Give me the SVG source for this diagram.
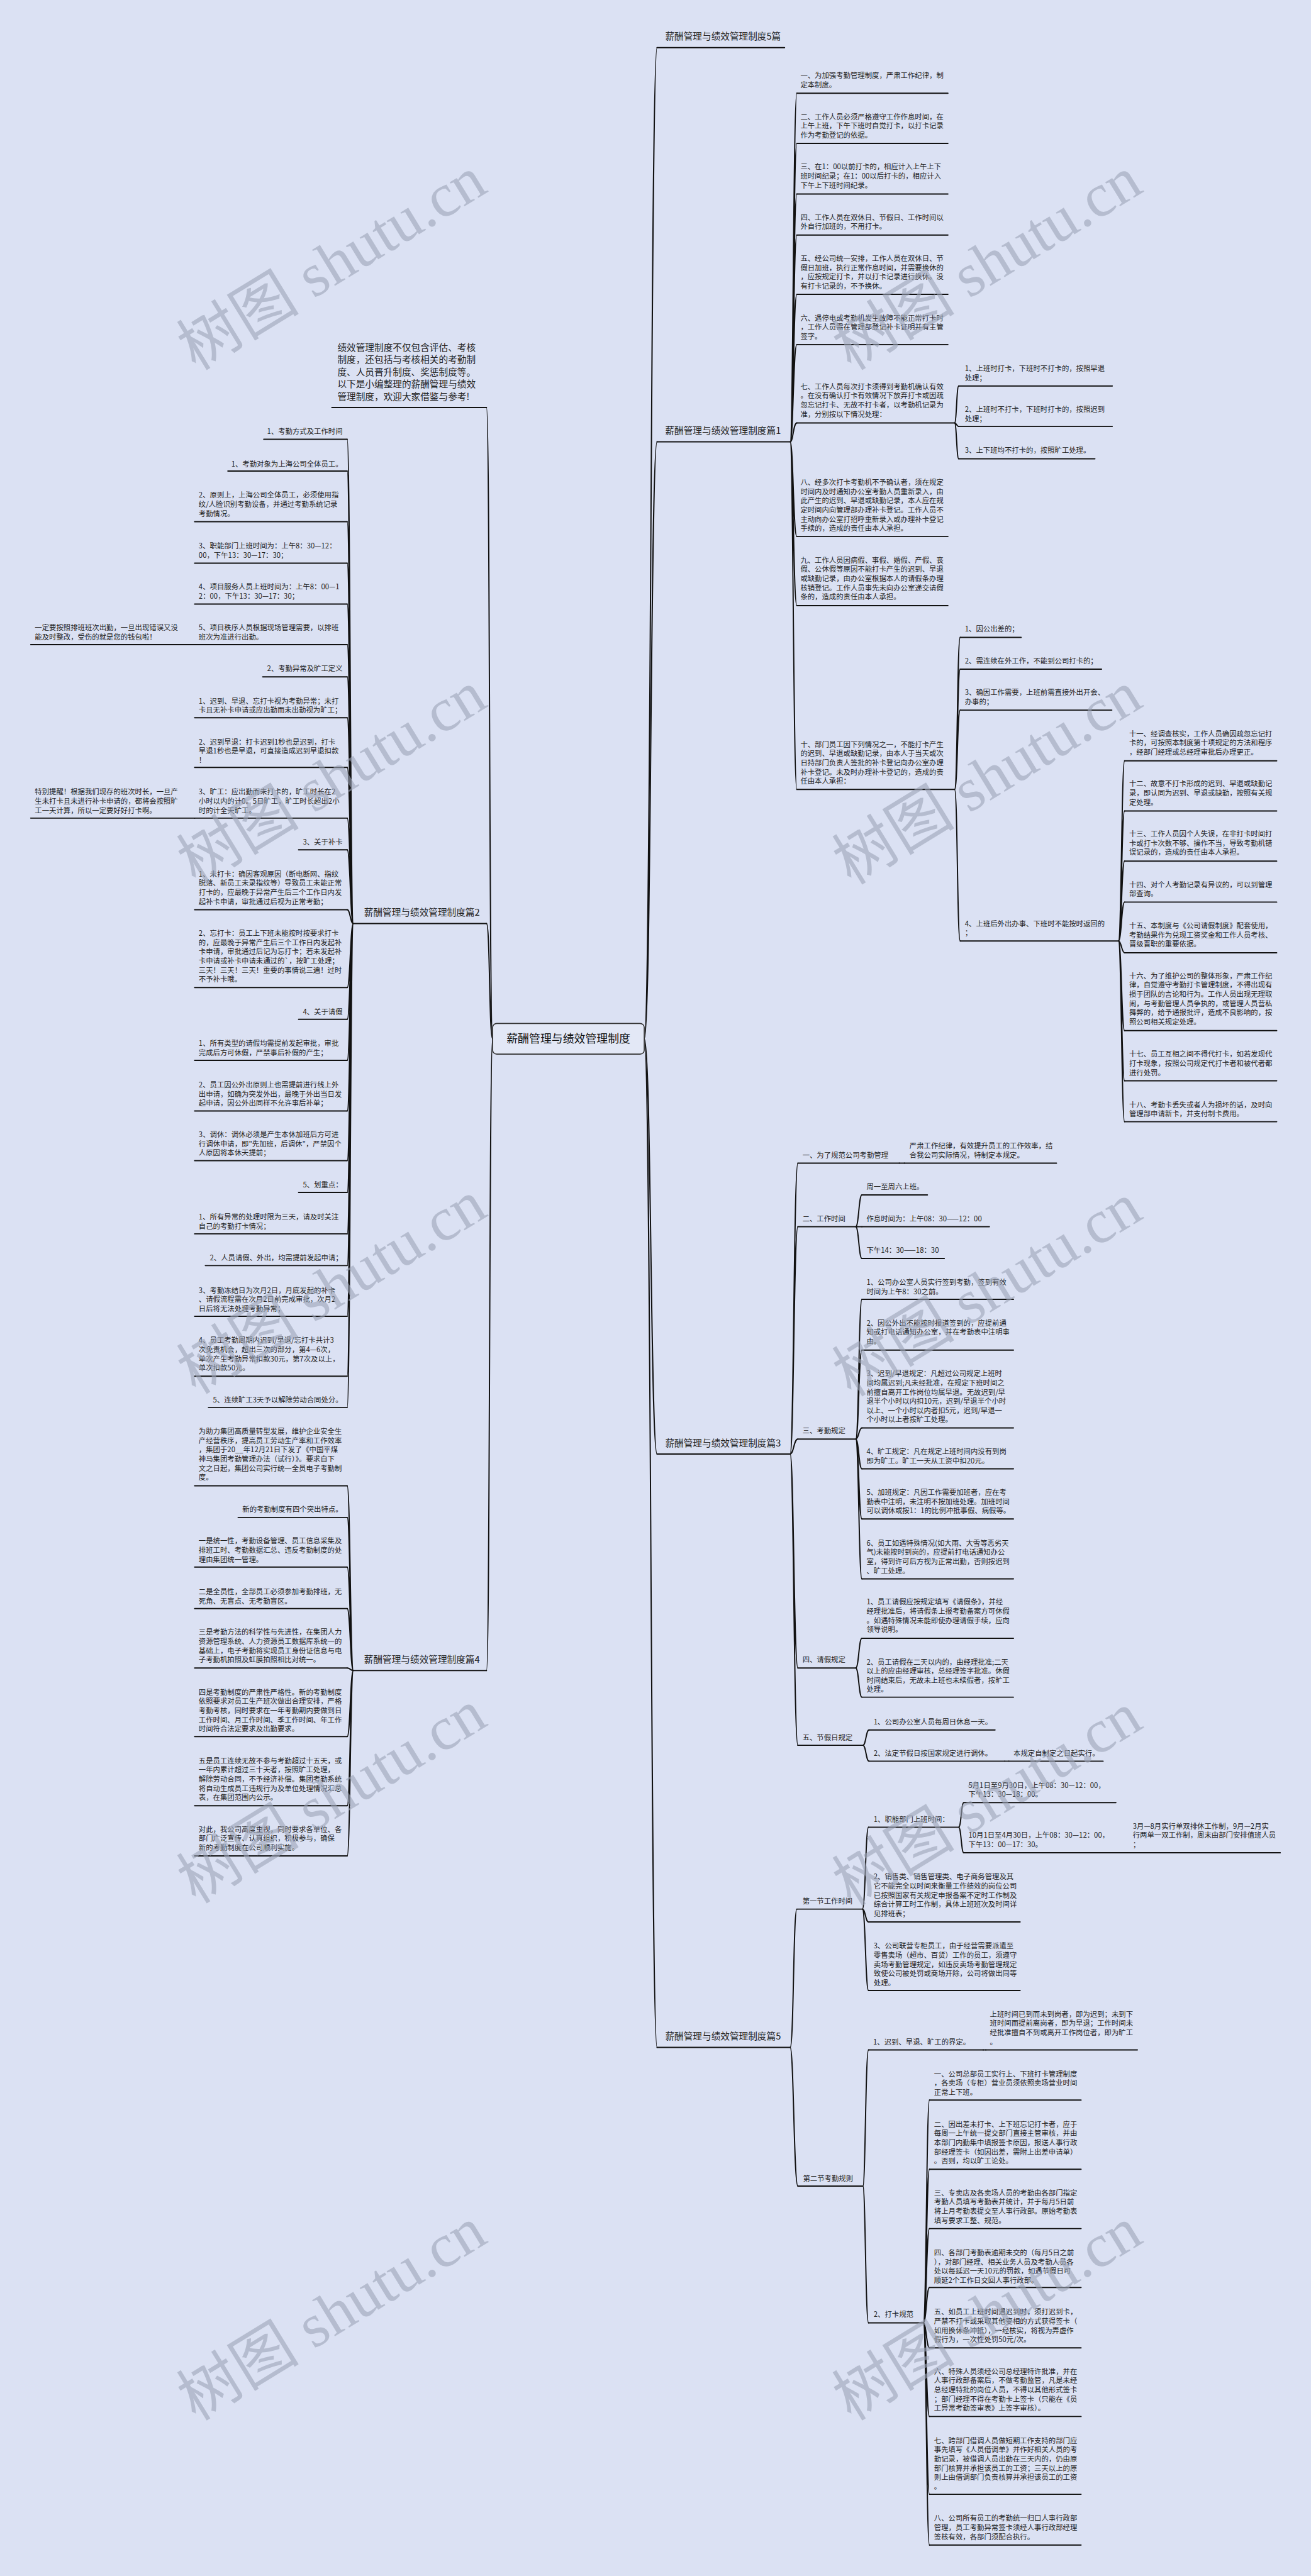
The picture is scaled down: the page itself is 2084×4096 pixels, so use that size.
<svg xmlns="http://www.w3.org/2000/svg" width="2084" height="4096" viewBox="0 0 2084 4096">
<style>
.t{font-family:"Noto Sans CJK SC","Noto Sans",sans-serif;font-size:14px;fill:#222}
.e{text-anchor:end}
.lb{font-size:18px}
.ct{font-size:22px;text-anchor:middle;fill:#111}
.ul,.cn{stroke:#111;stroke-width:2.4;fill:none;stroke-linecap:round}
.wm{font-family:"Liberation Serif","Noto Sans CJK SC",serif;font-size:120px;fill:#9da5b8;opacity:.6;text-anchor:middle}
</style>
<rect width="2084" height="4096" fill="#dbe1f3"/>
<g transform="scale(0.8140625)">
<g id="connectors">
<path class="cn" d="M962 2029 C955 2029 957 796 950 796"/>
<path class="cn" d="M962 2029 C955 2029 957 1804 950 1804"/>
<path class="cn" d="M962 2029 C955 2029 957 3263 950 3263"/>
<path class="cn" d="M1258 2029 C1272 2029 1270 93 1283 93"/>
<path class="cn" d="M1258 2029 C1272 2029 1270 863 1283 863"/>
<path class="cn" d="M1258 2029 C1272 2029 1270 2840 1283 2840"/>
<path class="cn" d="M1258 2029 C1272 2029 1270 3999 1283 3999"/>
<path class="cn" d="M690 1804 C684 1804 684 858 678 858 M690 1804 C684 1804 684 920 678 920 M690 1804 C684 1804 684 1019 678 1019 M690 1804 C684 1804 684 1100 678 1100 M690 1804 C684 1804 684 1180 678 1180 M690 1804 C684 1804 684 1259 678 1259 M690 1804 C684 1804 684 1322 678 1322 M690 1804 C684 1804 684 1402 678 1402 M690 1804 C684 1804 684 1499 678 1499 M690 1804 C684 1804 684 1598 678 1598 M690 1804 C684 1804 684 1660 678 1660 M690 1804 C684 1804 684 1777 678 1777 M690 1804 C684 1804 684 1929 678 1929 M690 1804 C684 1804 684 1991 678 1991 M690 1804 C684 1804 684 2071 678 2071 M690 1804 C684 1804 684 2170 678 2170 M690 1804 C684 1804 684 2267 678 2267 M690 1804 C684 1804 684 2329 678 2329 M690 1804 C684 1804 684 2410 678 2410 M690 1804 C684 1804 684 2472 678 2472 M690 1804 C684 1804 684 2571 678 2571 M690 1804 C684 1804 684 2688 678 2688 M690 1804 C684 1804 684 2749 678 2749"/>
<path class="cn" d="M690 3263 C684 3263 684 2902 678 2902 M690 3263 C684 3263 684 2964 678 2964 M690 3263 C684 3263 684 3061 678 3061 M690 3263 C684 3263 684 3142 678 3142 M690 3263 C684 3263 684 3258 678 3258 M690 3263 C684 3263 684 3392 678 3392 M690 3263 C684 3263 684 3527 678 3527 M690 3263 C684 3263 684 3625 678 3625"/>
<path class="cn" d="M1543 863 C1549 863 1549 182 1556 182 M1543 863 C1549 863 1549 280 1556 280 M1543 863 C1549 863 1549 379 1556 379 M1543 863 C1549 863 1549 459 1556 459 M1543 863 C1549 863 1549 575 1556 575 M1543 863 C1549 863 1549 673 1556 673 M1543 863 C1549 863 1549 826 1556 826 M1543 863 C1549 863 1549 1048 1556 1048 M1543 863 C1549 863 1549 1183 1556 1183 M1543 863 C1549 863 1549 1542 1556 1542"/>
<path class="cn" d="M1864 826 C1868 826 1868 754 1872 754 M1864 826 C1868 826 1868 833 1872 833 M1864 826 C1868 826 1868 896 1872 896"/>
<path class="cn" d="M1864 1542 C1870 1542 1869 1245 1875 1245 M1864 1542 C1870 1542 1869 1307 1875 1307 M1864 1542 C1870 1542 1869 1387 1875 1387 M1864 1542 C1870 1542 1869 1838 1875 1838"/>
<path class="cn" d="M2184 1838 C2190 1838 2190 1486 2196 1486 M2184 1838 C2190 1838 2190 1584 2196 1584 M2184 1838 C2190 1838 2190 1682 2196 1682 M2184 1838 C2190 1838 2190 1762 2196 1762 M2184 1838 C2190 1838 2190 1861 2196 1861 M2184 1838 C2190 1838 2190 2013 2196 2013 M2184 1838 C2190 1838 2190 2111 2196 2111 M2184 1838 C2190 1838 2190 2191 2196 2191"/>
<path class="cn" d="M1543 2840 C1550 2840 1550 2272 1558 2272 M1543 2840 C1550 2840 1550 2396 1558 2396 M1543 2840 C1550 2840 1550 2811 1558 2811 M1543 2840 C1550 2840 1550 3258 1558 3258 M1543 2840 C1550 2840 1550 3409 1558 3409"/>
<path class="cn" d="M1756 2272 H1766 M1962 3440 H1970 M2195 3619 H2203 M1920 4004 H1925"/>
<path class="cn" d="M1671 2396 C1677 2396 1677 2334 1683 2334 M1671 2396 C1677 2396 1677 2396 1683 2396 M1671 2396 C1677 2396 1677 2458 1683 2458"/>
<path class="cn" d="M1671 2811 C1677 2811 1677 2538 1683 2538 M1671 2811 C1677 2811 1677 2637 1683 2637 M1671 2811 C1677 2811 1677 2789 1683 2789 M1671 2811 C1677 2811 1677 2869 1683 2869 M1671 2811 C1677 2811 1677 2967 1683 2967 M1671 2811 C1677 2811 1677 3084 1683 3084"/>
<path class="cn" d="M1671 3258 C1677 3258 1677 3200 1683 3200 M1671 3258 C1677 3258 1677 3315 1683 3315"/>
<path class="cn" d="M1685 3409 C1691 3409 1691 3379 1697 3379 M1685 3409 C1691 3409 1691 3440 1697 3440"/>
<path class="cn" d="M1543 3999 C1550 3999 1549 3729 1556 3729 M1543 3999 C1550 3999 1550 4270 1558 4270"/>
<path class="cn" d="M1684 3729 C1690 3729 1690 3569 1696 3569 M1684 3729 C1690 3729 1690 3754 1696 3754 M1684 3729 C1690 3729 1690 3888 1696 3888"/>
<path class="cn" d="M1872 3569 C1877 3569 1877 3521 1882 3521 M1872 3569 C1877 3569 1877 3619 1882 3619"/>
<path class="cn" d="M1685 4270 C1690 4270 1690 4004 1696 4004 M1685 4270 C1690 4270 1690 4537 1696 4537"/>
<path class="cn" d="M1803 4537 C1809 4537 1809 4102 1815 4102 M1803 4537 C1809 4537 1809 4237 1815 4237 M1803 4537 C1809 4537 1809 4353 1815 4353 M1803 4537 C1809 4537 1809 4468 1815 4468 M1803 4537 C1809 4537 1809 4586 1815 4586 M1803 4537 C1809 4537 1809 4720 1815 4720 M1803 4537 C1809 4537 1809 4872 1815 4872 M1803 4537 C1809 4537 1809 4971 1815 4971"/>
</g>

<g id="center">
<rect x="962" y="1999" width="296" height="60" rx="8" fill="#e3e8f6" stroke="#333" stroke-width="2"/>
<text class="t ct" x="1110" y="2037">薪酬管理与绩效管理制度</text>
</g>

<g id="intro">
<text class="t lb" x="659" y="685">绩效管理制度不仅包含评估、考核</text>
<text class="t lb" x="659" y="709">制度，还包括与考核相关的考勤制</text>
<text class="t lb" x="659" y="733">度、人员晋升制度、奖惩制度等。</text>
<text class="t lb" x="659" y="757">以下是小编整理的薪酬管理与绩效</text>
<text class="t lb" x="659" y="781">管理制度，欢迎大家借鉴与参考!</text>
<path class="ul" d="M648 796 H950"/>
</g>

<g id="b2">
<text class="t lb" x="711" y="1789">薪酬管理与绩效管理制度篇2</text>
<path class="ul" d="M690 1804 H950"/>
</g>
<g id="b2-1"><text class="t e" x="669" y="848">1、考勤方式及工作时间</text><path class="ul" d="M515 858 H678"/></g>
<g id="b2-2"><text class="t e" x="669" y="911">1、考勤对象为上海公司全体员工。</text><path class="ul" d="M445 920 H678"/></g>
<g id="b2-3"><text class="t" x="388" y="972">2、原则上，上海公司全体员工，必须使用指</text><text class="t" x="388" y="990">纹/人脸识别考勤设备，并通过考勤系统记录</text><text class="t" x="388" y="1008">考勤情况。</text><path class="ul" d="M380 1019 H678"/></g>
<g id="b2-4"><text class="t" x="388" y="1071">3、职能部门上班时间为：上午8：30—12：</text><text class="t" x="388" y="1089">00，下午13：30—17：30；</text><path class="ul" d="M380 1100 H678"/></g>
<g id="b2-5"><text class="t" x="388" y="1151">4、项目服务人员上班时间为：上午8：00—1</text><text class="t" x="388" y="1169">2：00，下午13：30—17：30；</text><path class="ul" d="M380 1180 H678"/></g>
<g id="b2-6"><text class="t" x="388" y="1231">5、项目秩序人员根据现场管理需要，以排班</text><text class="t" x="388" y="1249">班次为准进行出勤。</text><path class="ul" d="M380 1259 H678"/></g>
<g id="b2-6a"><text class="t" x="68" y="1231">一定要按照排班班次出勤，一旦出现错误又没</text><text class="t" x="68" y="1249">能及时整改，受伤的就是您的钱包啦！</text><path class="ul" d="M60 1259 H380"/></g>
<g id="b2-7"><text class="t e" x="669" y="1311">2、考勤异常及旷工定义</text><path class="ul" d="M513 1322 H678"/></g>
<g id="b2-8"><text class="t" x="388" y="1374">1、迟到、早退、忘打卡视为考勤异常；未打</text><text class="t" x="388" y="1392">卡且无补卡申请或应出勤而未出勤视为旷工；</text><path class="ul" d="M380 1402 H678"/></g>
<g id="b2-9"><text class="t" x="388" y="1454">2、迟到早退：打卡迟到1秒也是迟到，打卡</text><text class="t" x="388" y="1472">早退1秒也是早退，可直接造成迟到早退扣款</text><text class="t" x="388" y="1490">！</text><path class="ul" d="M380 1499 H678"/></g>
<g id="b2-10"><text class="t" x="388" y="1552">3、旷工：应出勤而未打卡的，旷工时长在2</text><text class="t" x="388" y="1570">小时以内的计0。5日旷工，旷工时长超出2小</text><text class="t" x="388" y="1588">时的计全天旷工。</text><path class="ul" d="M380 1598 H678"/></g>
<g id="b2-10a"><text class="t" x="68" y="1552">特别提醒！根据我们现存的班次时长，一旦产</text><text class="t" x="68" y="1570">生未打卡且未进行补卡申请的，都将会按照旷</text><text class="t" x="68" y="1588">工一天计算，所以一定要好好打卡啊。</text><path class="ul" d="M60 1598 H380"/></g>
<g id="b2-11"><text class="t e" x="669" y="1650">3、关于补卡</text><path class="ul" d="M583 1660 H678"/></g>
<g id="b2-12"><text class="t" x="388" y="1712">1、未打卡：确因客观原因（断电断网、指纹</text><text class="t" x="388" y="1730">脱落、新员工未录指纹等）导致员工未能正常</text><text class="t" x="388" y="1748">打卡的，应最晚于异常产生后三个工作日内发</text><text class="t" x="388" y="1766">起补卡申请，审批通过后视为正常考勤；</text><path class="ul" d="M380 1777 H678"/></g>
<g id="b2-13"><text class="t" x="388" y="1828">2、忘打卡：员工上下班未能按时按要求打卡</text><text class="t" x="388" y="1846">的，应最晚于异常产生后三个工作日内发起补</text><text class="t" x="388" y="1864">卡申请，审批通过后记为忘打卡；若未发起补</text><text class="t" x="388" y="1882">卡申请或补卡申请未通过的`，按旷工处理；</text><text class="t" x="388" y="1900">三天！三天！三天！重要的事情说三遍！过时</text><text class="t" x="388" y="1918">不予补卡哦。</text><path class="ul" d="M380 1929 H678"/></g>
<g id="b2-14"><text class="t e" x="669" y="1981">4、关于请假</text><path class="ul" d="M583 1991 H678"/></g>
<g id="b2-15"><text class="t" x="388" y="2043">1、所有类型的请假均需提前发起审批，审批</text><text class="t" x="388" y="2061">完成后方可休假，严禁事后补假的产生；</text><path class="ul" d="M380 2071 H678"/></g>
<g id="b2-16"><text class="t" x="388" y="2124">2、员工因公外出原则上也需提前进行线上外</text><text class="t" x="388" y="2142">出申请，如确为突发外出，最晚于外出当日发</text><text class="t" x="388" y="2160">起申请，因公外出同样不允许事后补单；</text><path class="ul" d="M380 2170 H678"/></g>
<g id="b2-17"><text class="t" x="388" y="2221">3、调休：调休必须是产生本休加班后方可进</text><text class="t" x="388" y="2239">行调休申请，即"先加班，后调休"，严禁因个</text><text class="t" x="388" y="2257">人原因将本休天提前；</text><path class="ul" d="M380 2267 H678"/></g>
<g id="b2-18"><text class="t e" x="669" y="2319">5、划重点：</text><path class="ul" d="M583 2329 H678"/></g>
<g id="b2-19"><text class="t" x="388" y="2382">1、所有异常的处理时限为三天，请及时关注</text><text class="t" x="388" y="2400">自己的考勤打卡情况；</text><path class="ul" d="M380 2410 H678"/></g>
<g id="b2-20"><text class="t e" x="669" y="2462">2、人员请假、外出，均需提前发起申请；</text><path class="ul" d="M401 2472 H678"/></g>
<g id="b2-21"><text class="t" x="388" y="2525">3、考勤冻结日为次月2日，月底发起的补卡</text><text class="t" x="388" y="2543">、请假流程需在次月2日前完成审批，次月2</text><text class="t" x="388" y="2561">日后将无法处理考勤异常；</text><path class="ul" d="M380 2571 H678"/></g>
<g id="b2-22"><text class="t" x="388" y="2623">4、员工考勤周期内迟到/早退/忘打卡共计3</text><text class="t" x="388" y="2641">次免责机会，超出三次的部分，第4—6次，</text><text class="t" x="388" y="2659">单次产生考勤异常扣款30元，第7次及以上，</text><text class="t" x="388" y="2677">单次扣款50元。</text><path class="ul" d="M380 2688 H678"/></g>
<g id="b2-23"><text class="t e" x="669" y="2739">5、连续旷工3天予以解除劳动合同处分。</text><path class="ul" d="M407 2749 H678"/></g>

<g id="b4">
<text class="t lb" x="711" y="3248">薪酬管理与绩效管理制度篇4</text>
<path class="ul" d="M690 3263 H950"/>
</g>
<g id="b4-1"><text class="t" x="388" y="2801">为助力集团高质量转型发展，维护企业安全生</text><text class="t" x="388" y="2819">产经营秩序，提高员工劳动生产率和工作效率</text><text class="t" x="388" y="2837">，集团于20__年12月21日下发了《中国平煤</text><text class="t" x="388" y="2855">神马集团考勤管理办法（试行）》。要求自下</text><text class="t" x="388" y="2873">文之日起，集团公司实行统一全员电子考勤制</text><text class="t" x="388" y="2891">度。</text><path class="ul" d="M380 2902 H678"/></g>
<g id="b4-2"><text class="t e" x="669" y="2953">新的考勤制度有四个突出特点。</text><path class="ul" d="M465 2964 H678"/></g>
<g id="b4-3"><text class="t" x="388" y="3015">一是统一性，考勤设备管理、员工信息采集及</text><text class="t" x="388" y="3033">排班工时、考勤数据汇总、违反考勤制度的处</text><text class="t" x="388" y="3051">理由集团统一管理。</text><path class="ul" d="M380 3061 H678"/></g>
<g id="b4-4"><text class="t" x="388" y="3114">二是全员性，全部员工必须参加考勤排班，无</text><text class="t" x="388" y="3132">死角、无盲点、无考勤盲区。</text><path class="ul" d="M380 3142 H678"/></g>
<g id="b4-5"><text class="t" x="388" y="3193">三是考勤方法的科学性与先进性，在集团人力</text><text class="t" x="388" y="3211">资源管理系统、人力资源员工数据库系统一的</text><text class="t" x="388" y="3229">基础上，电子考勤将实现员工身份证信息与电</text><text class="t" x="388" y="3247">子考勤机拍照及虹膜拍照相比对统一。</text><path class="ul" d="M380 3258 H678"/></g>
<g id="b4-6"><text class="t" x="388" y="3310">四是考勤制度的严肃性严格性。新的考勤制度</text><text class="t" x="388" y="3328">依照要求对员工生产班次做出合理安排，严格</text><text class="t" x="388" y="3346">考勤考核，同时要求在一年考勤期内要做到日</text><text class="t" x="388" y="3364">工作时间、月工作时间、季工作时间、年工作</text><text class="t" x="388" y="3382">时间符合法定要求及出勤要求。</text><path class="ul" d="M380 3392 H678"/></g>
<g id="b4-7"><text class="t" x="388" y="3444">五是员工连续无故不参与考勤超过十五天，或</text><text class="t" x="388" y="3462">一年内累计超过三十天者，按照旷工处理，</text><text class="t" x="388" y="3480">解除劳动合同，不予经济补偿。集团考勤系统</text><text class="t" x="388" y="3498">将自动生成员工违规行为及单位处理情况汇总</text><text class="t" x="388" y="3516">表，在集团范围内公示。</text><path class="ul" d="M380 3527 H678"/></g>
<g id="b4-8"><text class="t" x="388" y="3578">对此，我公司高度重视，同时要求各单位、各</text><text class="t" x="388" y="3596">部门广泛宣传、认真组织，积极参与，确保</text><text class="t" x="388" y="3614">新的考勤制度在公司顺利实施。</text><path class="ul" d="M380 3625 H678"/></g>

<g id="b5p">
<text class="t lb" x="1299" y="78">薪酬管理与绩效管理制度5篇</text>
<path class="ul" d="M1283 93 H1532"/>
</g>

<g id="b1">
<text class="t lb" x="1299" y="848">薪酬管理与绩效管理制度篇1</text>
<path class="ul" d="M1283 863 H1543"/>
</g>
<g id="b1-1"><text class="t" x="1563" y="152">一、为加强考勤管理制度，严肃工作纪律，制</text><text class="t" x="1563" y="171">定本制度。</text><path class="ul" d="M1556 182 H1851"/></g>
<g id="b1-2"><text class="t" x="1563" y="234">二、工作人员必须严格遵守工作作息时间，在</text><text class="t" x="1563" y="251">上午上班，下午下班时自觉打卡，以打卡记录</text><text class="t" x="1563" y="269">作为考勤登记的依据。</text><path class="ul" d="M1556 280 H1851"/></g>
<g id="b1-3"><text class="t" x="1563" y="331">三、在1：00以前打卡的，相应计入上午上下</text><text class="t" x="1563" y="349">班时间纪录；在1：00以后打卡的，相应计入</text><text class="t" x="1563" y="367">下午上下班时间纪录。</text><path class="ul" d="M1556 379 H1851"/></g>
<g id="b1-4"><text class="t" x="1563" y="430">四、工作人员在双休日、节假日、工作时间以</text><text class="t" x="1563" y="447">外自行加班的，不用打卡。</text><path class="ul" d="M1556 459 H1851"/></g>
<g id="b1-5"><text class="t" x="1563" y="510">五、经公司统一安排，工作人员在双休日、节</text><text class="t" x="1563" y="528">假日加班，执行正常作息时间，并需要换休的</text><text class="t" x="1563" y="545">，应按规定打卡，并以打卡记录进行换休。没</text><text class="t" x="1563" y="564">有打卡记录的，不予换休。</text><path class="ul" d="M1556 575 H1851"/></g>
<g id="b1-6"><text class="t" x="1563" y="626">六、遇停电或考勤机发生故障不能正常打卡时</text><text class="t" x="1563" y="644">，工作人员需在管理部登记补卡证明并有主管</text><text class="t" x="1563" y="662">签字。</text><path class="ul" d="M1556 673 H1851"/></g>
<g id="b1-7"><text class="t" x="1563" y="760">七、工作人员每次打卡须得到考勤机确认有效</text><text class="t" x="1563" y="778">。在没有确认打卡有效情况下放弃打卡或因疏</text><text class="t" x="1563" y="796">忽忘记打卡、无故不打卡者，以考勤机记录为</text><text class="t" x="1563" y="814">准，分别按以下情况处理：</text><path class="ul" d="M1556 826 H1864"/></g>
<g id="b1-7-1"><text class="t" x="1884" y="725">1、上班时打卡，下班时不打卡的，按照早退</text><text class="t" x="1884" y="743">处理；</text><path class="ul" d="M1872 754 H2172"/></g>
<g id="b1-7-2"><text class="t" x="1884" y="805">2、上班时不打卡，下班时打卡的，按照迟到</text><text class="t" x="1884" y="823">处理；</text><path class="ul" d="M1872 833 H2172"/></g>
<g id="b1-7-3"><text class="t" x="1884" y="885">3、上下班均不打卡的，按照旷工处理。</text><path class="ul" d="M1872 896 H2138"/></g>
<g id="b1-8"><text class="t" x="1563" y="947">八、经多次打卡考勤机不予确认者，须在规定</text><text class="t" x="1563" y="965">时间内及时通知办公室考勤人员重新录入，由</text><text class="t" x="1563" y="983">此产生的迟到、早退或缺勤记录，本人应在规</text><text class="t" x="1563" y="1001">定时间内向管理部办理补卡登记。工作人员不</text><text class="t" x="1563" y="1019">主动向办公室打招呼重新录入或办理补卡登记</text><text class="t" x="1563" y="1037">手续的，造成的责任由本人承担。</text><path class="ul" d="M1556 1048 H1851"/></g>
<g id="b1-9"><text class="t" x="1563" y="1099">九、工作人员因病假、事假、婚假、产假、丧</text><text class="t" x="1563" y="1117">假、公休假等原因不能打卡产生的迟到、早退</text><text class="t" x="1563" y="1135">或缺勤记录，由办公室根据本人的请假条办理</text><text class="t" x="1563" y="1153">核销登记。工作人员事先未向办公室递交请假</text><text class="t" x="1563" y="1171">条的，造成的责任由本人承担。</text><path class="ul" d="M1556 1183 H1851"/></g>
<g id="b1-10"><text class="t" x="1563" y="1459">十、部门员工因下列情况之一，不能打卡产生</text><text class="t" x="1563" y="1477">的迟到、早退或缺勤记录，由本人于当天或次</text><text class="t" x="1563" y="1495">日持部门负责人签批的补卡登记向办公室办理</text><text class="t" x="1563" y="1513">补卡登记。未及时办理补卡登记的，造成的责</text><text class="t" x="1563" y="1531">任由本人承担：</text><path class="ul" d="M1556 1542 H1864"/></g>
<g id="b1-10-1"><text class="t" x="1884" y="1233">1、因公出差的；</text><path class="ul" d="M1875 1245 H1994"/></g>
<g id="b1-10-2"><text class="t" x="1884" y="1296">2、需连续在外工作，不能到公司打卡的；</text><path class="ul" d="M1875 1307 H2151"/></g>
<g id="b1-10-3"><text class="t" x="1884" y="1358">3、确因工作需要，上班前需直接外出开会、</text><text class="t" x="1884" y="1376">办事的；</text><path class="ul" d="M1875 1387 H2171"/></g>
<g id="b1-10-4"><text class="t" x="1884" y="1809">4、上班后外出办事、下班时不能按时返回的</text><text class="t" x="1884" y="1827">；</text><path class="ul" d="M1875 1838 H2184"/></g>
<g id="b1-11"><text class="t" x="2205" y="1438">十一、经调查核实，工作人员确因疏忽忘记打</text><text class="t" x="2205" y="1456">卡的，可按照本制度第十项规定的方法和程序</text><text class="t" x="2205" y="1474">，经部门经理或总经理审批后办理更正。</text><path class="ul" d="M2196 1486 H2493"/></g>
<g id="b1-12"><text class="t" x="2205" y="1536">十二、故意不打卡形成的迟到、早退或缺勤记</text><text class="t" x="2205" y="1554">录，即认同为迟到、早退或缺勤，按照有关规</text><text class="t" x="2205" y="1572">定处理。</text><path class="ul" d="M2196 1584 H2493"/></g>
<g id="b1-13"><text class="t" x="2205" y="1634">十三、工作人员因个人失误，在非打卡时间打</text><text class="t" x="2205" y="1652">卡或打卡次数不够、操作不当，导致考勤机错</text><text class="t" x="2205" y="1670">误记录的，造成的责任由本人承担。</text><path class="ul" d="M2196 1682 H2493"/></g>
<g id="b1-14"><text class="t" x="2205" y="1733">十四、对个人考勤记录有异议的，可以到管理</text><text class="t" x="2205" y="1751">部查询。</text><path class="ul" d="M2196 1762 H2493"/></g>
<g id="b1-15"><text class="t" x="2205" y="1813">十五、本制度与《公司请假制度》配套使用，</text><text class="t" x="2205" y="1831">考勤结果作为兑现工资奖金和工作人员考核、</text><text class="t" x="2205" y="1849">晋级晋职的重要依据。</text><path class="ul" d="M2196 1861 H2493"/></g>
<g id="b1-16"><text class="t" x="2205" y="1911">十六、为了维护公司的整体形象，严肃工作纪</text><text class="t" x="2205" y="1929">律，自觉遵守考勤打卡管理制度，不得出现有</text><text class="t" x="2205" y="1947">损于团队的言论和行为。工作人员出现无理取</text><text class="t" x="2205" y="1965">闹，与考勤管理人员争执的，或管理人员营私</text><text class="t" x="2205" y="1983">舞弊的，给予通报批评，造成不良影响的，按</text><text class="t" x="2205" y="2001">照公司相关规定处理。</text><path class="ul" d="M2196 2013 H2493"/></g>
<g id="b1-17"><text class="t" x="2205" y="2064">十七、员工互相之间不得代打卡，如若发现代</text><text class="t" x="2205" y="2082">打卡现象，按照公司规定代打卡者和被代者都</text><text class="t" x="2205" y="2100">进行处罚。</text><path class="ul" d="M2196 2111 H2493"/></g>
<g id="b1-18"><text class="t" x="2205" y="2163">十八、考勤卡丢失或者人为损坏的话，及时向</text><text class="t" x="2205" y="2181">管理部申请新卡，并支付制卡费用。</text><path class="ul" d="M2196 2191 H2493"/></g>

<g id="b3">
<text class="t lb" x="1299" y="2825">薪酬管理与绩效管理制度篇3</text>
<path class="ul" d="M1283 2840 H1543"/>
</g>
<g id="b3-1"><text class="t" x="1567" y="2261">一、为了规范公司考勤管理</text><path class="ul" d="M1558 2272 H1756"/></g>
<g id="b3-1a"><text class="t" x="1776" y="2243">严肃工作纪律，有效提升员工的工作效率，结</text><text class="t" x="1776" y="2261">合我公司实际情况，特制定本规定。</text><path class="ul" d="M1766 2272 H2063"/></g>
<g id="b3-2"><text class="t" x="1567" y="2385">二、工作时间</text><path class="ul" d="M1558 2396 H1671"/></g>
<g id="b3-2a"><text class="t" x="1692" y="2323">周一至周六上班。</text><path class="ul" d="M1683 2334 H1811"/></g>
<g id="b3-2b"><text class="t" x="1692" y="2385">作息时间为：上午08：30——12：00</text><path class="ul" d="M1683 2396 H1932"/></g>
<g id="b3-2c"><text class="t" x="1692" y="2447">下午14：30——18：30</text><path class="ul" d="M1683 2458 H1844"/></g>
<g id="b3-3"><text class="t" x="1567" y="2800">三、考勤规定</text><path class="ul" d="M1558 2811 H1671"/></g>
<g id="b3-3a"><text class="t" x="1692" y="2510">1、公司办公室人员实行签到考勤，签到有效</text><text class="t" x="1692" y="2528">时间为上午8：30之前。</text><path class="ul" d="M1683 2538 H1979"/></g>
<g id="b3-3b"><text class="t" x="1692" y="2589">2、因公外出不能按时报道签到的，应提前通</text><text class="t" x="1692" y="2607">知或打电话通知办公室，并在考勤表中注明事</text><text class="t" x="1692" y="2625">由。</text><path class="ul" d="M1683 2637 H1979"/></g>
<g id="b3-3c"><text class="t" x="1692" y="2688">3、迟到/早退规定：凡超过公司规定上班时</text><text class="t" x="1692" y="2706">间均属迟到;凡未经批准，在规定下班时间之</text><text class="t" x="1692" y="2724">前擅自离开工作岗位均属早退。无故迟到/早</text><text class="t" x="1692" y="2742">退半个小时以内扣10元，迟到/早退半个小时</text><text class="t" x="1692" y="2760">以上、一个小时以内者扣5元，迟到/早退一</text><text class="t" x="1692" y="2778">个小时以上者按旷工处理。</text><path class="ul" d="M1683 2789 H1979"/></g>
<g id="b3-3d"><text class="t" x="1692" y="2840">4、旷工规定：凡在规定上班时间内没有到岗</text><text class="t" x="1692" y="2858">即为旷工。旷工一天从工资中扣20元。</text><path class="ul" d="M1683 2869 H1979"/></g>
<g id="b3-3e"><text class="t" x="1692" y="2920">5、加班规定：凡因工作需要加班者，应在考</text><text class="t" x="1692" y="2938">勤表中注明，未注明不按加班处理。加班时间</text><text class="t" x="1692" y="2956">可以调休或按1：1的比例冲抵事假、病假等。</text><path class="ul" d="M1683 2967 H1979"/></g>
<g id="b3-3f"><text class="t" x="1692" y="3019">6、员工如遇特殊情况(如大雨、大雪等恶劣天</text><text class="t" x="1692" y="3037">气)未能按时到岗的，应提前打电话通知办公</text><text class="t" x="1692" y="3055">室，得到许可后方视为正常出勤，否则按迟到</text><text class="t" x="1692" y="3073">、旷工处理。</text><path class="ul" d="M1683 3084 H1979"/></g>
<g id="b3-4"><text class="t" x="1567" y="3247">四、请假规定</text><path class="ul" d="M1558 3258 H1671"/></g>
<g id="b3-4a"><text class="t" x="1692" y="3134">1、员工请假应按规定填写《请假条》，并经</text><text class="t" x="1692" y="3152">经理批准后，将请假条上报考勤备案方可休假</text><text class="t" x="1692" y="3170">。如遇特殊情况未能即使办理请假手续，应向</text><text class="t" x="1692" y="3188">领导说明。</text><path class="ul" d="M1683 3200 H1979"/></g>
<g id="b3-4b"><text class="t" x="1692" y="3251">2、员工请假在二天以内的，由经理批准;二天</text><text class="t" x="1692" y="3269">以上的应由经理审核，总经理签字批准。休假</text><text class="t" x="1692" y="3287">时间结束后，无故未上班也未续假者，按旷工</text><text class="t" x="1692" y="3305">处理。</text><path class="ul" d="M1683 3315 H1979"/></g>
<g id="b3-5"><text class="t" x="1567" y="3399">五、节假日规定</text><path class="ul" d="M1558 3409 H1685"/></g>
<g id="b3-5a"><text class="t" x="1706" y="3368">1、公司办公室人员每周日休息一天。</text><path class="ul" d="M1697 3379 H1943"/></g>
<g id="b3-5b"><text class="t" x="1706" y="3430">2、法定节假日按国家规定进行调休。</text><path class="ul" d="M1697 3440 H1962"/></g>
<g id="b3-5b1"><text class="t" x="1979" y="3430">本规定自制定之日起实行。</text><path class="ul" d="M1970 3440 H2154"/></g>

<g id="b5">
<text class="t lb" x="1299" y="3984">薪酬管理与绩效管理制度篇5</text>
<path class="ul" d="M1283 3999 H1543"/>
</g>
<g id="b5-1"><text class="t" x="1567" y="3718">第一节工作时间</text><path class="ul" d="M1556 3729 H1684"/></g>
<g id="b5-1-1"><text class="t" x="1706" y="3559">1、职能部门上班时间：</text><path class="ul" d="M1696 3569 H1872"/></g>
<g id="b5-1-1a"><text class="t" x="1891" y="3492">5月1日至9月30日，上午08：30—12：00，</text><text class="t" x="1891" y="3510">下午13：30—18：00。</text><path class="ul" d="M1882 3521 H2179"/></g>
<g id="b5-1-1b"><text class="t" x="1891" y="3590">10月1日至4月30日，上午08：30—12：00，</text><text class="t" x="1891" y="3608">下午13：00—17：30。</text><path class="ul" d="M1882 3619 H2195"/></g>
<g id="b5-1-1b1"><text class="t" x="2212" y="3572">3月—8月实行单双排休工作制，9月—2月实</text><text class="t" x="2212" y="3590">行两单一双工作制，周末由部门安排值班人员</text><text class="t" x="2212" y="3608">；</text><path class="ul" d="M2203 3619 H2500"/></g>
<g id="b5-1-2"><text class="t" x="1706" y="3671">2、销售类、销售管理类、电子商务管理及其</text><text class="t" x="1706" y="3689">它不能完全以时间来衡量工作绩效的岗位公司</text><text class="t" x="1706" y="3707">已按照国家有关规定申报备案不定时工作制及</text><text class="t" x="1706" y="3725">综合计算工时工作制，具体上班班次及时间详</text><text class="t" x="1706" y="3743">见排班表；</text><path class="ul" d="M1696 3754 H1992"/></g>
<g id="b5-1-3"><text class="t" x="1706" y="3806">3、公司联营专柜员工，由于经营需要派遣至</text><text class="t" x="1706" y="3824">零售卖场（超市、百货）工作的员工，须遵守</text><text class="t" x="1706" y="3842">卖场考勤管理规定，如违反卖场考勤管理规定</text><text class="t" x="1706" y="3860">致使公司被处罚或商场开除，公司将做出同等</text><text class="t" x="1706" y="3878">处理。</text><path class="ul" d="M1696 3888 H1992"/></g>
<g id="b5-2"><text class="t" x="1568" y="4260">第二节考勤规则</text><path class="ul" d="M1558 4270 H1685"/></g>
<g id="b5-2-1"><text class="t" x="1705" y="3994">1、迟到、早退、旷工的界定。</text><path class="ul" d="M1696 4004 H1920"/></g>
<g id="b5-2-1a"><text class="t" x="1933" y="3939">上班时间已到而未到岗者，即为迟到；未到下</text><text class="t" x="1933" y="3957">班时间而提前离岗者，即为早退；工作时间未</text><text class="t" x="1933" y="3975">经批准擅自不到或离开工作岗位者，即为旷工</text><text class="t" x="1933" y="3993">。</text><path class="ul" d="M1925 4004 H2221"/></g>
<g id="b5-2-2"><text class="t" x="1706" y="4525">2、打卡规范</text><path class="ul" d="M1696 4537 H1803"/></g>
<g id="b5-2-2-1"><text class="t" x="1824" y="4056">一、公司总部员工实行上、下班打卡管理制度</text><text class="t" x="1824" y="4074">，各卖场（专柜）营业员须依照卖场营业时间</text><text class="t" x="1824" y="4092">正常上下班。</text><path class="ul" d="M1815 4102 H2111"/></g>
<g id="b5-2-2-2"><text class="t" x="1824" y="4154">二、因出差未打卡、上下班忘记打卡者，应于</text><text class="t" x="1824" y="4172">每周一上午统一提交部门直接主管审核，并由</text><text class="t" x="1824" y="4190">本部门内勤集中填报签卡原因，报送人事行政</text><text class="t" x="1824" y="4208">部经理签卡（如因出差，需附上出差申请单）</text><text class="t" x="1824" y="4226">。否则，均以旷工论处。</text><path class="ul" d="M1815 4237 H2111"/></g>
<g id="b5-2-2-3"><text class="t" x="1824" y="4288">三、专卖店及各卖场人员的考勤由各部门指定</text><text class="t" x="1824" y="4306">考勤人员填写考勤表并统计，并于每月5日前</text><text class="t" x="1824" y="4324">将上月考勤表提交至人事行政部。原始考勤表</text><text class="t" x="1824" y="4342">填写要求工整、规范。</text><path class="ul" d="M1815 4353 H2111"/></g>
<g id="b5-2-2-4"><text class="t" x="1824" y="4405">四、各部门考勤表逾期未交的（每月5日之前</text><text class="t" x="1824" y="4423">），对部门经理、相关业务人员及考勤人员各</text><text class="t" x="1824" y="4441">处以每延迟一天10元的罚款，如遇节假日可</text><text class="t" x="1824" y="4459">顺延2个工作日交回人事行政部。</text><path class="ul" d="M1815 4468 H2111"/></g>
<g id="b5-2-2-5"><text class="t" x="1824" y="4521">五、如员工上班时间遇迟到时，须打迟到卡，</text><text class="t" x="1824" y="4539">严禁不打卡或采取其他变相的方式获得签卡（</text><text class="t" x="1824" y="4557">如用换休条冲抵），一经核实，将视为弄虚作</text><text class="t" x="1824" y="4575">假行为，一次性处罚50元/次。</text><path class="ul" d="M1815 4586 H2111"/></g>
<g id="b5-2-2-6"><text class="t" x="1824" y="4637">六、特殊人员须经公司总经理特许批准，并在</text><text class="t" x="1824" y="4655">人事行政部备案后，不做考勤监管，凡是未经</text><text class="t" x="1824" y="4673">总经理特批的岗位人员，不得以其他形式签卡</text><text class="t" x="1824" y="4691">；部门经理不得在考勤卡上签卡（只能在《员</text><text class="t" x="1824" y="4709">工异常考勤签审表》上签字审核）。</text><path class="ul" d="M1815 4720 H2111"/></g>
<g id="b5-2-2-7"><text class="t" x="1824" y="4772">七、跨部门借调人员做短期工作支持的部门应</text><text class="t" x="1824" y="4790">事先填写《人员借调单》并作好相关人员的考</text><text class="t" x="1824" y="4808">勤记录，被借调人员出勤在三天内的，仍由原</text><text class="t" x="1824" y="4826">部门核算并承担该员工的工资；三天以上的原</text><text class="t" x="1824" y="4844">则上由借调部门负责核算并承担该员工的工资</text><text class="t" x="1824" y="4862">。</text><path class="ul" d="M1815 4872 H2111"/></g>
<g id="b5-2-2-8"><text class="t" x="1824" y="4924">八、公司所有员工的考勤统一归口人事行政部</text><text class="t" x="1824" y="4942">管理，员工考勤异常签卡须经人事行政部经理</text><text class="t" x="1824" y="4960">签核有效，各部门须配合执行。</text><path class="ul" d="M1815 4971 H2111"/></g>

<g id="watermarks">
<text class="wm" transform="translate(648 515) rotate(-31.5)" y="40">树图 shutu.cn</text>
<text class="wm" transform="translate(1928 515) rotate(-31.5)" y="40">树图 shutu.cn</text>
<text class="wm" transform="translate(648 1520) rotate(-31.5)" y="40">树图 shutu.cn</text>
<text class="wm" transform="translate(1928 1520) rotate(-31.5)" y="40">树图 shutu.cn</text>
<text class="wm" transform="translate(648 2515) rotate(-31.5)" y="40">树图 shutu.cn</text>
<text class="wm" transform="translate(1928 2520) rotate(-31.5)" y="40">树图 shutu.cn</text>
<text class="wm" transform="translate(648 3510) rotate(-31.5)" y="40">树图 shutu.cn</text>
<text class="wm" transform="translate(1928 3515) rotate(-31.5)" y="40">树图 shutu.cn</text>
<text class="wm" transform="translate(648 4520) rotate(-31.5)" y="40">树图 shutu.cn</text>
<text class="wm" transform="translate(1928 4520) rotate(-31.5)" y="40">树图 shutu.cn</text>
</g>
</g>
</svg>
